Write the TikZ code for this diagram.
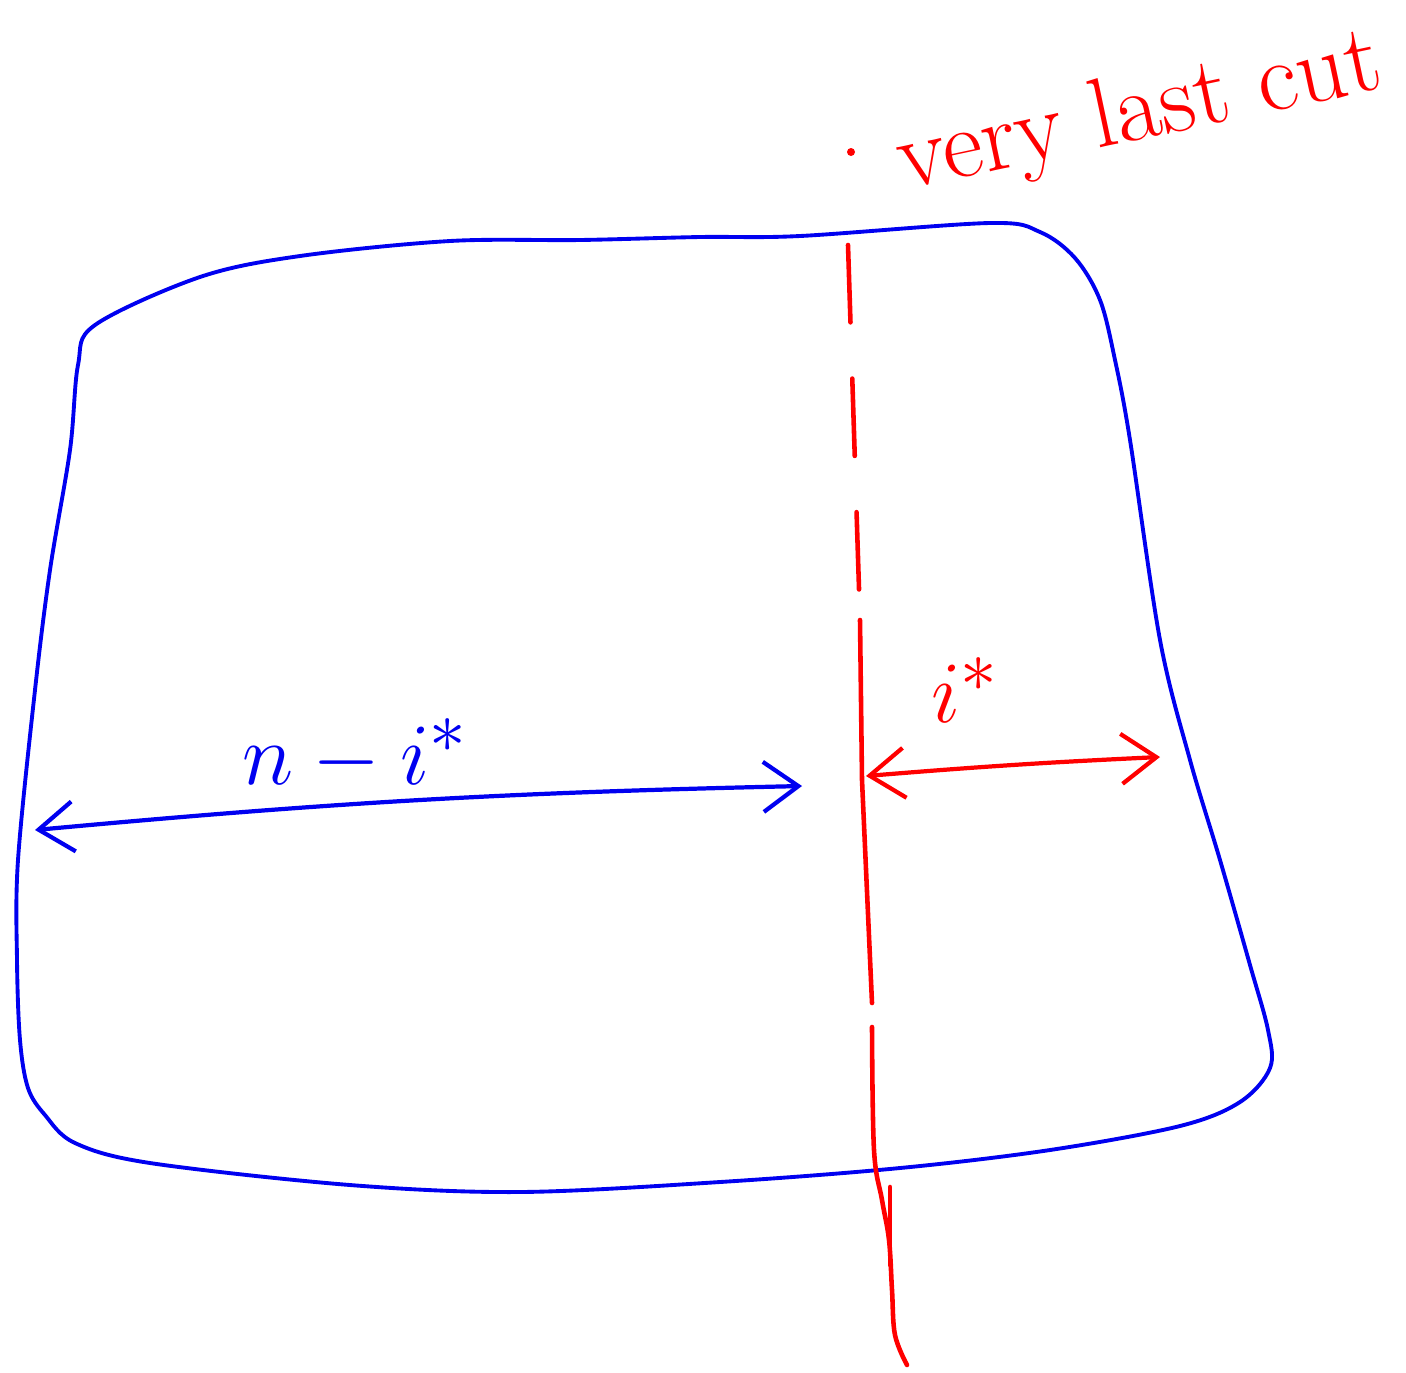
\documentclass[tikz,border=0pt]{standalone}
\usepackage{tikz}
\usepackage{xcolor}
\usetikzlibrary{arrows.meta, positioning, calc}
\definecolor{penblue}{RGB}{0,0,240}
\definecolor{penred}{RGB}{255,0,0}

\begin{document}
\begin{tikzpicture}[
  x=0.01cm, y=-0.01cm,
  outline/.style={penblue, line width=1.1pt, line join=round},
  cutline/.style={penred, line width=1.3pt, line cap=round},
  bluearrow/.style={{Straight Barb[length=3.5mm, width=5mm]}-{Straight Barb[length=3.5mm, width=5mm]}, penblue, line width=1.2pt},
  redarrow/.style={{Straight Barb[length=3.5mm, width=5mm]}-{Straight Barb[length=3.5mm, width=5mm]}, penred, line width=1.2pt},
  bluelabel/.style={text=penblue, font=\fontsize{30}{32}\selectfont},
  redlabel/.style={text=penred, font=\fontsize{30}{32}\selectfont}
]
\useasboundingbox (0,0) rectangle (1406,1372);

% the piece
\draw[outline] plot[smooth cycle, tension=0.55] coordinates {
  (95,325) (200,277) (300,256) (450,241) (580,240) (700,237) (800,236)
  (990,223) (1040,232) (1075,258) (1100,300) (1115,360) (1130,440)
  (1160,640) (1190,760) (1220,860) (1250,965) (1268,1030) (1270,1068)
  (1240,1102) (1180,1126) (1050,1150) (900,1168) (720,1182) (520,1192)
  (350,1185) (150,1163) (75,1143) (45,1115) (28,1088) (20,1040) (17,960)
  (18,860) (35,690) (50,570) (70,450) (78,365)};

% the cut
\coordinate (cut top) at (848,245);
\coordinate (cut mid) at (860,620);
\coordinate (cut low) at (872,1003);
\coordinate (cut bot) at (907,1365);
\draw[cutline, dash pattern=on 22pt off 16pt] (cut top) -- (cut mid);
\draw[cutline] (cut mid) -- (862,780) -- (cut low);
\draw[cutline] plot[smooth, tension=0.6] coordinates {
  (872,1027) (874,1150) (882,1200) (889,1240) (892,1290) (895,1335) (cut bot)};
\draw[cutline] (890,1187) -- (890,1265);
\fill[penred] (851,152) circle (4);

\node[redlabel, rotate=12] (cut text) at (1140,115) {\fontsize{28}{30}\selectfont very last cut};

% widths
\coordinate (left end) at (35,830);
\coordinate (left tip) at (802,786);
\coordinate (right start) at (866,776);
\coordinate (right end) at (1160,757);
\draw[bluearrow] (left end) to[bend left=2] (left tip);
\draw[redarrow] (right start) to[bend left=1] (right end);

\node[bluelabel] (rest) at (355,755) {$n-i^*$};
\node[redlabel] (last) at (965,690) {$i^*$};
\end{tikzpicture}
\end{document}
